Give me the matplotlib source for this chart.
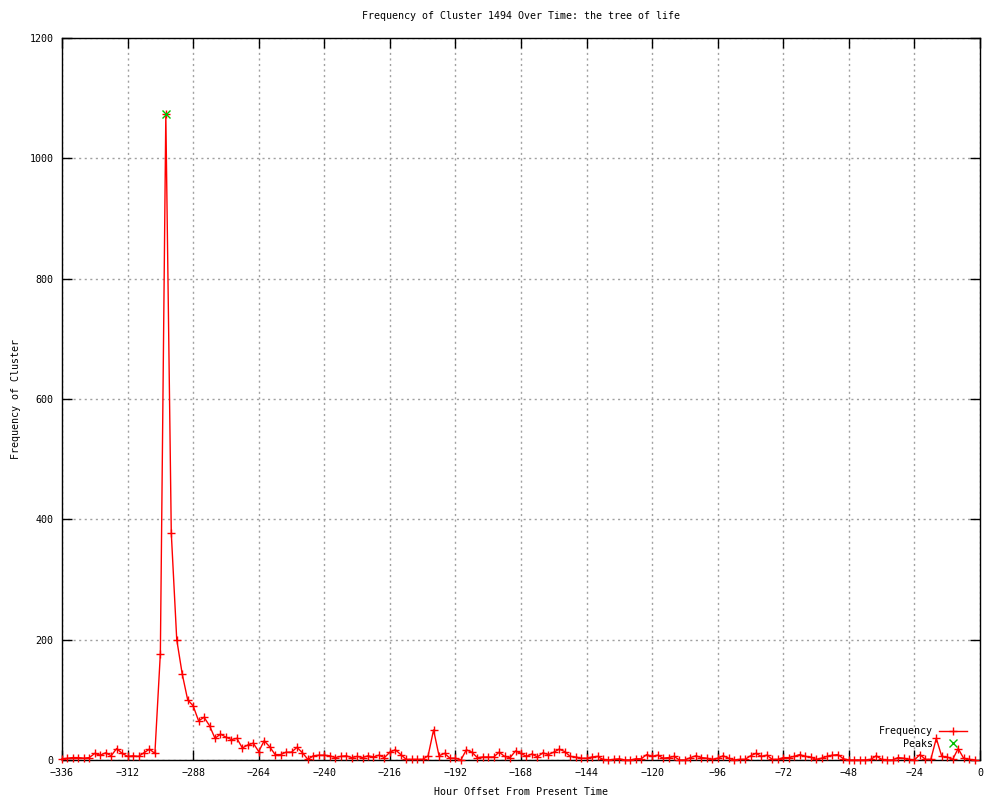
import numpy as np
import matplotlib.pyplot as plt

# hourly offsets (every 2 hours) and cluster counts
hours = np.arange(-336, 0, 2)
freq = [2, 3, 4, 4, 3, 4, 11, 8, 12, 7, 19, 11, 6, 7, 6, 12, 18, 11, 177,
        1073, 377, 200, 143, 100, 90, 65, 71, 57, 36,
        43, 38, 34, 36, 20, 25, 28, 14, 32, 22, 9, 9, 13, 13, 21,
        12, 1, 7, 8, 8, 7, 4, 6, 7, 4, 6, 4, 7, 5,
        8, 4, 13, 17, 9, 1, 1, 1, 1, 7, 50, 7, 11, 3, 3, 0, 17, 13, 4, 5, 5, 5,
        13, 6, 4, 15, 11, 6, 10,
        5, 12, 9, 13, 18, 14, 6, 5, 3, 3, 5, 6, 1, 0, 1, 2, 0, 0, 2, 2, 9, 6,
        8, 3, 4, 6, 0, 0,
        4, 7, 4, 3, 1, 3, 7, 3, 0, 1, 1, 7, 11, 6, 8, 1, 1, 4, 4, 6, 9, 6, 5,
        1, 3, 6, 8, 9, 2,
        0, 0, 0, 0, 1, 7, 1, 0, 0, 4, 3, 1, 0, 9, 1, 1, 36, 6, 5, 1, 19, 3, 1, 0]
peak_hours = [-298]
peak_vals = [1073]

xticks = np.arange(-336, 1, 24)
yticks = np.arange(0, 1201, 200)

plt.rcParams['font.family'] = ['DejaVu Sans Mono']
plt.rcParams['font.size'] = 7.2

fig = plt.figure(figsize=(10, 8), dpi=100)
ax = fig.add_axes([0.062, 0.05, 0.918, 0.9025])

ax.plot(hours, freq, '-', color='red', lw=1.0, marker='+', ms=6, mew=1.0,
        label='Frequency', clip_on=False, zorder=3)
ax.plot(peak_hours, peak_vals, 'x', color='#00c000', ms=6, mew=1.0,
        label='Peaks', zorder=4)

ax.set_xlim(-336, 0)
ax.set_ylim(0, 1200)
ax.set_xticks(xticks)
ax.set_yticks(yticks)
ax.tick_params(direction='in', length=7, width=1, top=True, right=True,
               labelsize=7.2, pad=6)
ax.grid(True, color='#a0a0a0', linestyle=(0, (1.5, 2.5)), lw=1)
for s in ax.spines.values():
    s.set_linewidth(1)

ax.set_title('Frequency of Cluster 1494 Over Time: the tree of life',
             fontsize=7.2, pad=14)
ax.set_xlabel('Hour Offset From Present Time', labelpad=6)
ax.set_ylabel('Frequency of Cluster', labelpad=6)

ax.legend(loc='lower right', markerfirst=False, frameon=False,
          bbox_to_anchor=(0.993, 0.006), handlelength=2.8,
          handletextpad=0.6, labelspacing=0.25, borderpad=0.2, fontsize=7.2)

fig.savefig('out.png', dpi=100)
